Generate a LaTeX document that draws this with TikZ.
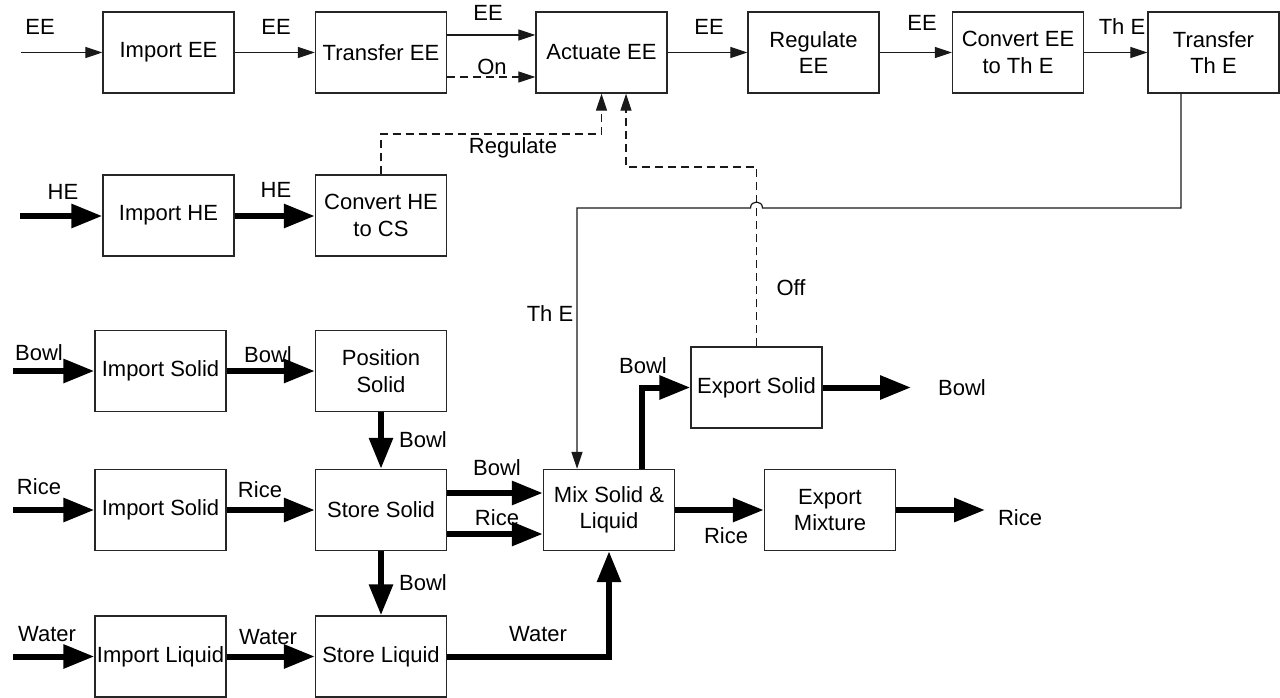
\documentclass[tikz,border=0pt]{standalone}
\usepackage{fontspec}
\setmainfont{Liberation Sans}
\usetikzlibrary{arrows.meta}
\begin{document}
\begin{tikzpicture}[x=1pt,y=-1pt,
  every node/.style={font=\fontsize{22}{26.5}\selectfont},
  fbox/.style={draw=black!85,line width=1.4pt,minimum width=131pt,minimum height=81pt,align=center,inner sep=0pt},
  lbl/.style={inner sep=0pt},
  thinarrow/.style={draw=black!90,line width=1.2pt,-{Triangle[length=17pt,width=11pt]}},
  dasharrow/.style={thinarrow,dash pattern=on 8pt off 5pt},
  thickarrow/.style={draw=black,line width=6pt,-{Triangle[length=31pt,width=23pt]}},
  thinline/.style={draw=black!90,line width=1.2pt}]
\fill[white] (0,0) rectangle (1280,698);
\useasboundingbox (0,0) rectangle (1280,698);

% top row
\node[fbox] (impEE) at (168.5,52.5) {Import EE};
\node[fbox] (trEE) at (381,52.5) {Transfer EE};
\node[fbox] (actEE) at (601.5,52.5) {Actuate EE};
\node[fbox] (regEE) at (813.5,52.5) {Regulate\\EE};
\node[fbox] (convEE) at (1018,52.5) {Convert EE\\to Th E};
\node[fbox] (trThE) at (1213.5,52.5) {Transfer\\Th E};
% HE row
\node[fbox] (impHE) at (168.5,215.5) {Import HE};
\node[fbox] (convHE) at (381,215.5) {Convert HE\\to CS};
% lower part
\node[fbox] (impSolB) at (160.5,371) {Import Solid};
\node[fbox] (posSol) at (381,371) {Position\\Solid};
\node[fbox] (impSolR) at (160.5,510) {Import Solid};
\node[fbox] (stoSol) at (381,510) {Store Solid};
\node[fbox] (impLiq) at (160.5,656.5) {Import Liquid};
\node[fbox] (stoLiq) at (381,656.5) {Store Liquid};
\node[fbox] (mix) at (609,510) {Mix Solid \&\\Liquid};
\node[fbox] (expSol) at (756.5,387.5) {Export Solid};
\node[fbox] (expMix) at (830,510) {Export\\Mixture};

% free ends
\coordinate (inEE) at (21,52.5);
\coordinate (inHE) at (20,216);
\coordinate (inBowl) at (13,371);
\coordinate (inRice) at (13,510);
\coordinate (inWater) at (13,656.5);
\coordinate (outBowl) at (911,387.5);
\coordinate (outRice) at (985,510);

% top connectors
\draw[thinarrow] (inEE) -- (impEE.west);
\draw[thinarrow] (impEE.east) -- (trEE.west);
\draw[thinarrow] (trEE.east |- 0,35) -- (actEE.west |- 0,35);
\draw[dasharrow] (trEE.east |- 0,77) -- (actEE.west |- 0,77);
\draw[thinarrow] (actEE.east) -- (regEE.west);
\draw[thinarrow] (regEE.east) -- (convEE.west);
\draw[thinarrow] (convEE.east) -- (trThE.west);

% HE
\draw[thickarrow] (inHE) -- (impHE.west |- inHE);
\draw[thickarrow] (impHE.east |- inHE) -- (convHE.west |- inHE);

% control signals
\draw[dasharrow] (convHE.north) |- (601.5,134) -- (actEE.south);
\draw[dasharrow] (expSol.north) |- (626,167) -- ([xshift=24.5pt]actEE.south);

% thermal energy with hop
\draw[thinarrow] ([xshift=-32.5pt]trThE.south) |- (762.5,208)
  .. controls (762.5,200) and (750.5,200) .. (750.5,208) -| ([xshift=-32pt]mix.north);

% solids and liquids
\draw[thickarrow] (inBowl) -- (impSolB.west);
\draw[thickarrow] (impSolB.east) -- (posSol.west);
\draw[thickarrow] (posSol.south) -- (stoSol.north);
\draw[thickarrow] (inRice) -- (impSolR.west);
\draw[thickarrow] (impSolR.east) -- (stoSol.west);
\draw[thickarrow] (stoSol.east |- 0,493) -- (mix.west |- 0,493);
\draw[thickarrow] (stoSol.east |- 0,534) -- (mix.west |- 0,534);
\draw[thickarrow] (stoSol.south) -- (stoLiq.north);
\draw[thickarrow] (inWater) -- (impLiq.west);
\draw[thickarrow] (impLiq.east) -- (stoLiq.west);
\draw[thickarrow] (stoLiq.east) -| (mix.south);
\draw[thickarrow] ([xshift=33pt]mix.north) |- (expSol.west);
\draw[thickarrow] (expSol.east) -- (outBowl);
\draw[thickarrow] (mix.east) -- (expMix.west);
\draw[thickarrow] (expMix.east) -- (outRice);

% labels
\node[lbl] (l1) at (40,27) {EE};
\node[lbl] (l2) at (276,27) {EE};
\node[lbl] (l3) at (488,13) {EE};
\node[lbl] (l4) at (492,67) {On};
\node[lbl] (l5) at (709,27) {EE};
\node[lbl] (l6) at (922,23) {EE};
\node[lbl] (l7) at (1122,27) {Th E};
\node[lbl] (l8) at (513,148) {Regulate};
\node[lbl] (l9) at (63,192) {HE};
\node[lbl] (l10) at (276,190) {HE};
\node[lbl] (l11) at (550,314) {Th E};
\node[lbl] (l12) at (791,288) {Off};
\node[lbl] (l13) at (39,353) {Bowl};
\node[lbl] (l14) at (268,355) {Bowl};
\node[lbl] (l15) at (423,440) {Bowl};
\node[lbl] (l16) at (39,487) {Rice};
\node[lbl] (l17) at (260,490) {Rice};
\node[lbl] (l18) at (497,468) {Bowl};
\node[lbl] (l19) at (497,518) {Rice};
\node[lbl] (l20) at (423,583) {Bowl};
\node[lbl] (l21) at (47,634) {Water};
\node[lbl] (l22) at (268,637) {Water};
\node[lbl] (l23) at (538,634) {Water};
\node[lbl] (l24) at (643,366) {Bowl};
\node[lbl] (l25) at (962,388) {Bowl};
\node[lbl] (l26) at (726,536) {Rice};
\node[lbl] (l27) at (1020,518) {Rice};
\end{tikzpicture}
\end{document}
